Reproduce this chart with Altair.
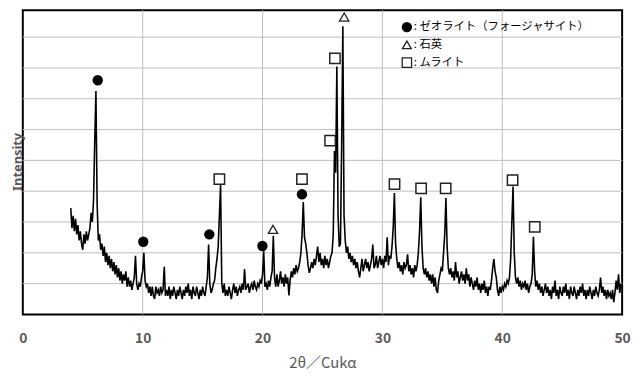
import altair as alt
import pandas as pd

# XRD intensity (arbitrary units), sampled every 0.1 deg from 4.0 to 49.9 (2theta)
start_deg = 4.0
step_deg = 0.1
intensity = [
    3.45, 2.8, 3.2, 2.7, 3.1, 2.6, 2.9, 2.4, 2.7, 2.3,   # 4
    2.1, 2.6, 2.3, 2.7, 2.4, 2.6, 2.8, 3.3, 3.0, 3.7,    # 5
    5.6, 7.25, 3.6, 2.4, 2.6, 2.1, 2.3, 1.9, 2.2, 1.7,   # 6
    2.0, 1.6, 1.9, 1.5, 1.8, 1.4, 1.7, 1.3, 1.6, 1.2,    # 7
    1.5, 1.1, 1.4, 1.0, 1.3, 1.1, 1.4, 0.9, 1.2, 0.9,    # 8
    1.1, 0.8, 1.0, 1.2, 1.9, 1.0, 0.8, 1.0, 0.9, 1.2,    # 9
    1.4, 2.0, 1.1, 0.9, 1.0, 0.7, 0.9, 0.6, 0.9, 0.6,    # 10
    0.5, 0.9, 0.7, 0.8, 0.6, 0.9, 0.7, 0.8, 1.55, 0.6,   # 11
    0.8, 0.6, 0.9, 0.5, 0.8, 0.6, 0.9, 0.7, 0.5, 0.8,    # 12
    0.6, 0.9, 0.7, 0.5, 0.8, 0.6, 0.9, 0.7, 1.0, 0.6,    # 13
    0.8, 0.5, 0.9, 0.7, 0.6, 0.9, 0.7, 0.5, 0.8, 0.6,    # 14
    0.9, 0.7, 0.6, 0.9, 1.2, 2.27, 1.0, 0.7, 0.8, 1.0,   # 15
    1.1, 1.5, 1.8, 2.2, 3.2, 4.2, 1.0, 0.7, 1.0, 0.6,    # 16
    0.8, 0.6, 0.9, 0.7, 0.5, 0.8, 1.0, 0.7, 0.9, 0.6,    # 17
    0.8, 0.9, 0.7, 1.0, 0.8, 1.47, 0.8, 0.9, 1.0, 0.7,   # 18
    0.9, 1.0, 0.8, 1.1, 0.9, 0.8, 1.0, 0.9, 1.1, 1.0,    # 19
    1.3, 2.05, 0.9, 1.0, 0.8, 1.1, 0.9, 1.2, 1.4, 2.55,  # 20
    1.2, 0.9, 1.3, 0.9, 1.1, 1.4, 1.0, 1.2, 0.9, 1.3,    # 21
    1.0, 1.2, 0.62, 1.1, 1.4, 1.2, 1.5, 1.3, 1.6, 1.4,   # 22
    1.5, 1.7, 2.0, 2.6, 3.65, 2.5, 2.3, 2.0, 1.6, 1.35,  # 23
    1.5, 1.7, 1.5, 1.8, 1.6, 1.9, 2.2, 1.7, 2.0, 1.6,    # 24
    1.8, 1.5, 1.9, 1.6, 1.8, 1.5, 1.7, 1.9, 2.0, 2.6,    # 25
    5.3, 4.6, 8.05, 3.2, 2.2, 2.3, 5.5, 9.35, 3.2, 2.4,  # 26
    2.0, 2.2, 1.8, 2.0, 1.7, 1.9, 1.6, 1.8, 1.5, 1.7,    # 27
    1.4, 1.2, 1.5, 1.8, 1.4, 1.6, 1.8, 1.5, 1.7, 1.4,    # 28
    1.6, 1.8, 2.27, 1.5, 1.6, 1.9, 1.5, 1.7, 1.9, 1.6,   # 29
    1.8, 1.5, 1.9, 1.7, 2.5, 1.6, 1.9, 1.8, 2.2, 2.8,    # 30
    3.94, 2.3, 1.8, 1.5, 1.7, 1.4, 1.6, 1.3, 1.7, 1.5,   # 31
    1.6, 1.95, 1.4, 1.6, 1.3, 1.5, 1.2, 1.6, 1.4, 1.6,   # 32
    2.0, 2.7, 3.8, 2.2, 1.5, 1.3, 1.5, 1.2, 1.4, 1.1,    # 33
    1.3, 1.0, 1.3, 0.9, 1.2, 0.8, 0.7, 1.1, 1.3, 1.5,    # 34
    1.4, 2.0, 2.6, 3.78, 2.2, 1.5, 1.3, 1.5, 1.2, 1.4,   # 35
    1.1, 1.7, 1.2, 1.4, 1.0, 1.2, 1.4, 1.1, 1.3, 1.0,    # 36
    1.5, 1.1, 1.3, 0.9, 1.2, 1.0, 0.8, 1.1, 0.9, 1.2,    # 37
    0.8, 1.0, 0.7, 1.0, 0.8, 1.1, 0.7, 0.9, 0.6, 0.9,    # 38
    0.8, 1.1, 1.5, 1.8, 1.4, 1.2, 0.8, 0.6, 0.9, 0.7,    # 39
    0.9, 0.8, 1.0, 0.9, 1.1, 1.0, 1.2, 1.8, 3.0, 4.15,   # 40
    2.0, 1.2, 1.0, 1.2, 0.9, 1.1, 0.8, 1.0, 0.9, 1.1,    # 41
    0.8, 1.0, 0.7, 0.9, 1.0, 1.3, 2.52, 1.4, 0.9, 1.1,   # 42
    0.8, 1.0, 0.7, 0.9, 0.6, 0.8, 1.0, 0.7, 0.9, 0.6,    # 43
    0.8, 0.5, 0.9, 0.7, 1.1, 0.6, 0.8, 0.5, 0.9, 0.7,    # 44
    0.6, 0.9, 0.7, 1.0, 0.6, 0.8, 0.5, 0.9, 0.7, 0.6,    # 45
    0.9, 0.7, 0.5, 0.8, 0.6, 0.9, 0.7, 1.0, 0.6, 0.8,    # 46
    0.5, 0.8, 0.6, 0.9, 0.7, 0.5, 0.8, 0.6, 0.9, 0.7,    # 47
    0.6, 0.8, 1.2, 0.7, 0.9, 0.6, 0.8, 0.5, 0.8, 0.6,    # 48
    0.7, 0.5, 0.8, 0.4, 0.7, 1.1, 0.8, 1.3, 0.7, 1.0,    # 49
]
two_theta = [round(start_deg + step_deg * i, 1) for i in range(len(intensity))]

# Phase markers
zeolite_x = [6.25, 10.05, 15.56, 19.99, 23.29]
zeolite_y = [7.6, 2.36, 2.6, 2.22, 3.9]
quartz_x = [20.87, 26.81]
quartz_y = [2.76, 9.65]
mullite_x = [16.4, 23.29, 25.64, 26.04, 31.01, 33.23, 35.28, 40.86, 42.71]
mullite_y = [4.39, 4.39, 5.64, 8.31, 4.23, 4.09, 4.09, 4.36, 2.84]

x_ticks = [0, 10, 20, 30, 40, 50]
x_grid = [10, 20, 30, 40]
y_grid = [1, 2, 3, 4, 5, 6, 7, 8, 9]
legend_shapes = ["circle", "triangle-up", "square"]
legend_labels = [": ゼオライト（フォージャサイト）", ": 石英", ": ムライト"]

JP = "Noto Sans CJK JP"
GRAY = "#595959"
GRID = "#bdbdbd"

xrd = pd.DataFrame({"two_theta": two_theta, "intensity": intensity})
zeo = pd.DataFrame({"two_theta": zeolite_x, "intensity": zeolite_y})
qtz = pd.DataFrame({"two_theta": quartz_x, "intensity": quartz_y})
mul = pd.DataFrame({"two_theta": mullite_x, "intensity": mullite_y})
gx = pd.DataFrame({"two_theta": x_grid})
gy = pd.DataFrame({"intensity": y_grid})

xs = alt.Scale(domain=[0, 50], nice=False)
ys = alt.Scale(domain=[0, 9.87], nice=False, zero=False)

x_enc = alt.X(
    "two_theta:Q", scale=xs,
    axis=alt.Axis(
        values=x_ticks, grid=False,
        domain=False, ticks=False, labelPadding=24, labelFont=JP,
        labelFontSize=14, labelFontWeight="bold", labelColor=GRAY,
        labelFlush=False, labelBaseline="middle",
        title="2θ／Cukα", titleFont=JP, titleFontSize=15,
        titleFontWeight="normal", titleColor=GRAY, titleBaseline="middle",
        titleY=49,
    ),
)
y_enc = alt.Y(
    "intensity:Q", scale=ys,
    axis=alt.Axis(
        values=y_grid, grid=False,
        domain=False, ticks=False, labels=False,
        title="Intensity", titleFont="Noto Sans", titleFontSize=13,
        titleFontWeight="bold", titleColor=GRAY, titleAngle=270,
        titleAlign="center", titleBaseline="middle", titleX=-5, titleY=153,
    ),
)

grid_v = alt.Chart(gx).mark_rule(color=GRID, strokeWidth=1).encode(
    x=x_enc, y=alt.value(0), y2=alt.value(308))
grid_h = alt.Chart(gy).mark_rule(color=GRID, strokeWidth=1).encode(
    y=y_enc, x=alt.value(0), x2=alt.value(607))

line = alt.Chart(xrd).mark_line(color="black", strokeWidth=1.6).encode(x=x_enc, y=y_enc)

circles = alt.Chart(zeo).mark_point(
    shape="circle", filled=True, color="black", size=110, opacity=1
).encode(x=x_enc, y=y_enc)

squares = alt.Chart(mul).mark_point(
    shape="square", filled=True, fill="white", stroke="#222222",
    strokeWidth=1.5, size=110, opacity=1
).encode(x=x_enc, y=y_enc)

triangles = alt.Chart(qtz).mark_point(
    shape="triangle-up", filled=True, fill="white", stroke="#222222",
    strokeWidth=1.3, size=90, opacity=1
).encode(x=x_enc, y=y_enc)

legend_layers = []
for i, (shp, txt) in enumerate(zip(legend_shapes, legend_labels)):
    if shp == "circle":
        sym = alt.Chart(alt.Data(values=[{}])).mark_point(
            shape=shp, filled=True, color="black", size=110, opacity=1)
    else:
        sym = alt.Chart(alt.Data(values=[{}])).mark_point(
            shape=shp, filled=True, fill="white", stroke="#222222",
            strokeWidth=1.3, size=90 if shp == "square" else 80, opacity=1)
    legend_layers.append(sym.encode(x=alt.value(389), y=alt.value(17 + 18 * i)))
    legend_layers.append(
        alt.Chart(alt.Data(values=[{}])).mark_text(
            text=txt, font=JP, fontSize=11.5, align="left", baseline="middle",
            color="black"
        ).encode(x=alt.value(396), y=alt.value(17 + 18 * i))
    )

chart = alt.layer(grid_v, grid_h, line, circles, squares, triangles, *legend_layers).properties(
    width=607, height=308,
    autosize=alt.AutoSizeParams(type="none"),
    padding={"left": 15, "top": 0, "right": 10, "bottom": 60},
).configure_view(stroke="black", strokeWidth=2)

chart.save("out.html", embed_options={"renderer": "svg", "actions": False})
